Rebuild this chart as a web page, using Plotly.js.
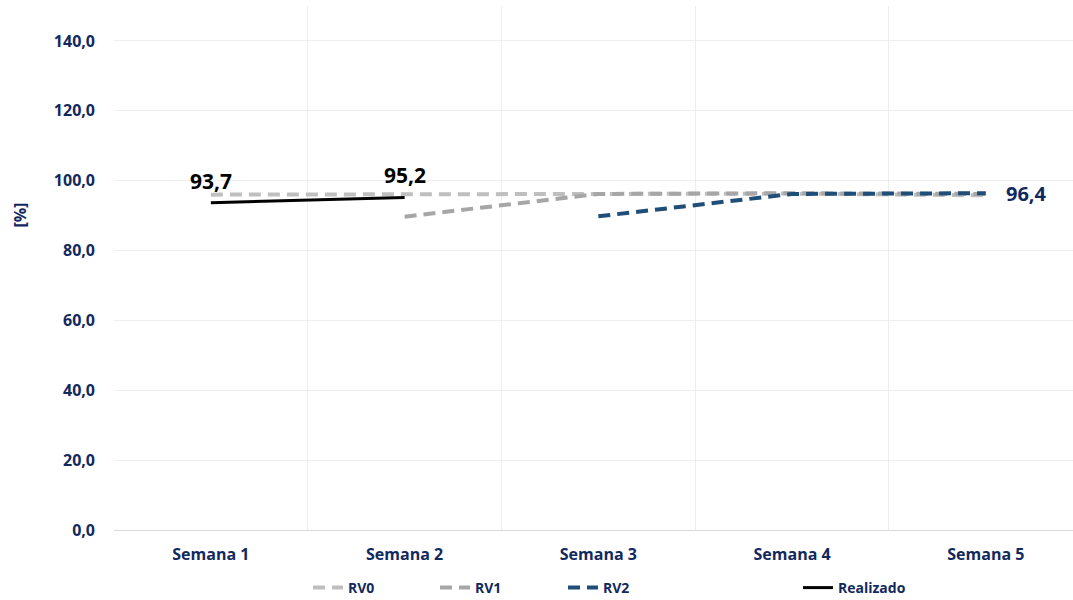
<!DOCTYPE html>
<html>
<head>
<meta charset="utf-8">
<script src="https://cdn.plot.ly/plotly-3.0.1.min.js"></script>
<style>html,body{margin:0;padding:0;background:#fff}#chart{width:1073px;height:600px}</style>
</head>
<body>
<div id="chart"></div>
<script>
const categories = ["Semana 1", "Semana 2", "Semana 3", "Semana 4", "Semana 5"];
const rv0 = [96.0, 96.1, 96.3, 96.3, 95.8];
const rv1 = [null, 89.7, 96.2, 96.4, 96.2];
const rv2 = [null, null, 89.8, 96.2, 96.4];
const realizado = [93.7, 95.2, null, null, null];
const yTicks = [0, 20, 40, 60, 80, 100, 120, 140];

const navy = "#12295E";
const font = "Open Sans, Noto Sans, sans-serif";
const fmt = v => v == null ? "" : v.toFixed(1).replace(".", ",");

const traces = [
  {x: categories, y: rv0, name: "RV0", mode: "lines", legend: "legend",
   line: {color: "#BFBFBF", width: 4, dash: "12px,7px"}},
  {x: categories, y: rv1, name: "RV1", mode: "lines", legend: "legend2",
   line: {color: "#A6A6A6", width: 4, dash: "12px,7px"}},
  {x: categories, y: rv2, name: "RV2", mode: "lines", legend: "legend3",
   line: {color: "#1F4E79", width: 4, dash: "12px,7px"}},
  {x: categories, y: realizado, name: "Realizado", mode: "lines", legend: "legend4",
   line: {color: "#000000", width: 3}}
];

const annotations = [];
realizado.forEach((v, i) => {
  if (v != null) annotations.push({x: categories[i], y: v, text: fmt(v), showarrow: false,
    yanchor: "bottom", xanchor: "center", yshift: 6,
    font: {family: font, size: 21, color: "#000000", weight: "bold"}});
});
const lastRv2 = rv2.length - 1;
annotations.push({x: categories[lastRv2], y: rv2[lastRv2], text: fmt(rv2[lastRv2]), showarrow: false,
  xanchor: "left", yanchor: "middle", xshift: 18,
  font: {family: font, size: 20, color: navy, weight: "bold"}});
annotations.push({text: "[%]", xref: "paper", yref: "paper", x: -0.098, y: 0.6, textangle: -90,
  showarrow: false, xanchor: "center", yanchor: "middle",
  font: {family: font, size: 16, color: navy, weight: "bold"}});

const legBase = {orientation: "h", yref: "container", yanchor: "middle", y: 0.02,
  xref: "container", xanchor: "left",
  bgcolor: "rgba(0,0,0,0)", itemwidth: 30,
  font: {family: font, size: 14, color: navy, weight: "bold"}};
const legX = px => px / 1073;

const layout = {
  width: 1073, height: 600,
  margin: {l: 114, r: 0, t: 6, b: 70, autoexpand: false},
  paper_bgcolor: "#ffffff", plot_bgcolor: "#ffffff",
  font: {family: font, color: navy},
  xaxis: {type: "category", range: [-0.5, 4.45], showgrid: true, gridcolor: "#EEEEEE",
    tickson: "boundaries", automargin: false,
    showline: true, linecolor: "#D9D9D9", linewidth: 1, zeroline: false, ticks: "",
    tickfont: {family: font, size: 16, color: navy, weight: "bold"}, ticklabelstandoff: 10},
  yaxis: {range: [0, 150], tickvals: yTicks, ticktext: yTicks.map(fmt), automargin: false,
    showgrid: true, gridcolor: "#EEEEEE", zeroline: false, showline: false, ticks: "",
    ticklabelstandoff: 18,
    tickfont: {family: font, size: 16, color: navy, weight: "bold"}},
  showlegend: true,
  legend: Object.assign({}, legBase, {x: legX(308)}),
  legend2: Object.assign({}, legBase, {x: legX(435)}),
  legend3: Object.assign({}, legBase, {x: legX(563)}),
  legend4: Object.assign({}, legBase, {x: legX(798)}),
  annotations: annotations
};

Plotly.newPlot("chart", traces, layout, {displayModeBar: false, staticPlot: true});
</script>
</body>
</html>
